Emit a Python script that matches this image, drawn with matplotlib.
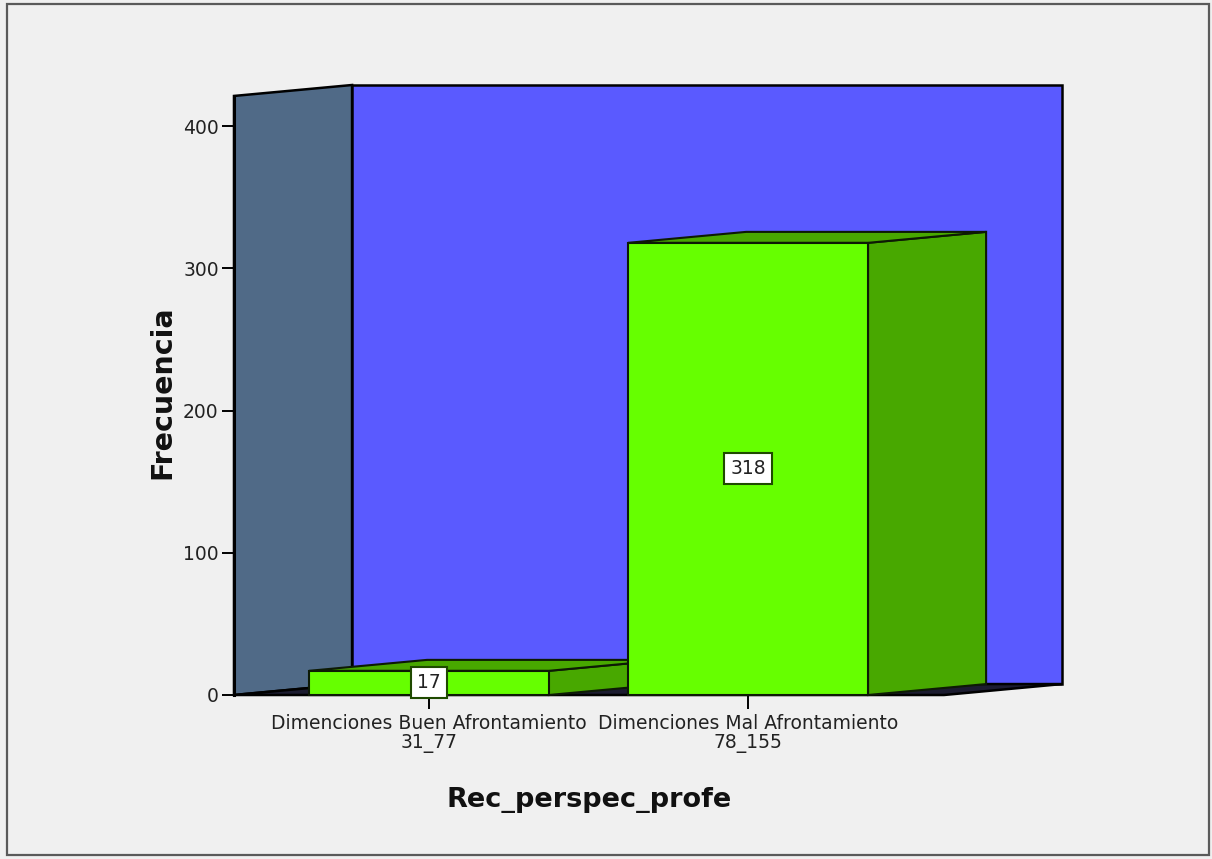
import matplotlib.pyplot as plt
from matplotlib.patches import Polygon, Rectangle

categories = ["Dimenciones Buen Afrontamiento\n31_77", "Dimenciones Mal Afrontamiento\n78_155"]
counts = [17, 318]
y_ticks = [0, 100, 200, 300, 400]

# pseudo-3d geometry, in data units
depth_x = 0.37
depth_y = 7.7
half_w = 0.376
wall_left = -0.611
wall_right = 1.614
wall_top = 421.3

front_green = "#66FF00"
shade_green = "#48A800"
edge_col = "#0d1a05"


def draw_bar(ax, xc, value, label):
    x0 = xc - half_w
    x1 = xc + half_w
    side = Polygon([(x1, 0), (x1 + depth_x, depth_y), (x1 + depth_x, value + depth_y), (x1, value)],
                   closed=True, facecolor=shade_green, edgecolor=edge_col, lw=1.5, zorder=2, clip_on=False)
    top = Polygon([(x0, value), (x1, value), (x1 + depth_x, value + depth_y), (x0 + depth_x, value + depth_y)],
                  closed=True, facecolor=shade_green, edgecolor=edge_col, lw=1.5, zorder=2, clip_on=False)
    front = Rectangle((x0, 0), x1 - x0, value, facecolor=front_green, edgecolor=edge_col, lw=1.5,
                      zorder=2, clip_on=False)
    ax.add_patch(side)
    ax.add_patch(top)
    ax.add_patch(front)
    ax.text(xc, value / 2, label, ha="center", va="center", fontsize=13.5, color="#222222", zorder=5,
            bbox=dict(boxstyle="square,pad=0.32", facecolor="white", edgecolor="#1f4a00", lw=1.5))


fig = plt.figure(figsize=(12.12, 8.59), dpi=100)
fig.patch.set_facecolor("#F0F0F0")

W, Hh = 1212, 859
ax = fig.add_axes([234 / W, (Hh - 695) / Hh, (1063 - 234) / W, (695 - 85) / Hh])
ax.set_xlim(wall_left, 1.987)
ax.set_ylim(0, 429)
ax.patch.set_visible(False)

# back wall, side wall and floor
side_wall = Polygon([(wall_left, 0), (wall_left + depth_x, depth_y), (wall_left + depth_x, wall_top + depth_y),
                     (wall_left, wall_top)], closed=True, facecolor="#506A87", edgecolor="black", lw=1.8,
                    zorder=1, clip_on=False)
back_wall = Polygon([(wall_left + depth_x, depth_y), (wall_right + depth_x, depth_y),
                     (wall_right + depth_x, wall_top + depth_y), (wall_left + depth_x, wall_top + depth_y)],
                    closed=True, facecolor="#5A5AFF", edgecolor="black", lw=1.8, zorder=1, clip_on=False)
floor = Polygon([(wall_left, 0), (wall_right, 0), (wall_right + depth_x, depth_y), (wall_left + depth_x, depth_y)],
                closed=True, facecolor="#1c1c30", edgecolor="black", lw=1.8, zorder=1, clip_on=False)
ax.add_patch(side_wall)
ax.add_patch(back_wall)
ax.add_patch(floor)

for i, v in enumerate(counts):
    draw_bar(ax, i, v, str(v))

for s in ["top", "right", "bottom"]:
    ax.spines[s].set_visible(False)
ax.spines["left"].set_bounds(0, wall_top)
ax.spines["left"].set_linewidth(2.2)
ax.spines["left"].set_zorder(3)

ax.set_yticks(y_ticks)
ax.set_yticklabels([str(t) for t in y_ticks])
ax.tick_params(axis="y", length=9, width=1.4, pad=2, labelsize=13.5, labelcolor="#222222")
ax.set_xticks(range(len(categories)))
ax.set_xticklabels(categories, linespacing=0.95)
ax.tick_params(axis="x", length=10, width=1.4, pad=4, labelsize=13.5, labelcolor="#222222")

ax.set_ylabel("Frecuencia", fontsize=20.5, fontweight="bold", color="#111111", va="center")
ax.yaxis.set_label_coords(-0.086, 0.497)
ax.set_xlabel("Rec_perspec_profe", fontsize=19.5, fontweight="bold", color="#111111", va="center")
ax.xaxis.set_label_coords(0.4285, -0.172)

# outer frame
fig.add_artist(Rectangle((7 / W, 4 / Hh), 1202 / W, 851 / Hh, transform=fig.transFigure,
                         fill=False, edgecolor="#5a5a5a", lw=1.6))

fig.savefig("out.png", dpi=100, facecolor=fig.get_facecolor())
